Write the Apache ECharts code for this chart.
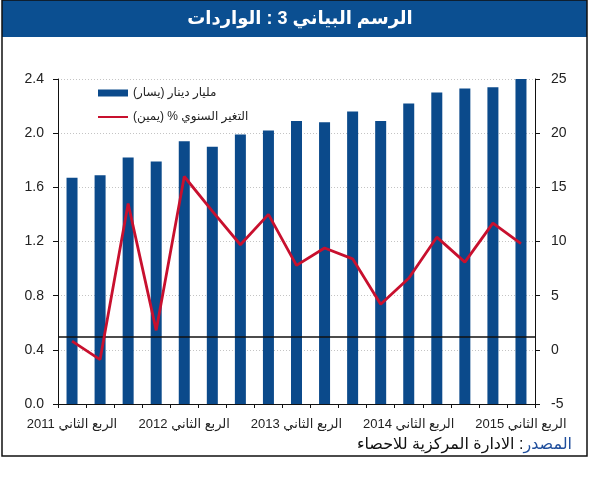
<!DOCTYPE html>
<html>
<head>
<meta charset="utf-8">
<script src="https://cdn.jsdelivr.net/npm/echarts@6/dist/echarts.min.js"></script>
<style>
  html, body { margin: 0; padding: 0; background: #fff; }
  #chart { width: 600px; height: 478px; }
</style>
</head>
<body>
<div id="chart" dir="rtl"></div>
<script>
const categories = [
  'الربع الثاني 2011', 'الربع الثالث 2011', 'الربع الرابع 2011',
  'الربع الأول 2012', 'الربع الثاني 2012', 'الربع الثالث 2012', 'الربع الرابع 2012',
  'الربع الأول 2013', 'الربع الثاني 2013', 'الربع الثالث 2013', 'الربع الرابع 2013',
  'الربع الأول 2014', 'الربع الثاني 2014', 'الربع الثالث 2014', 'الربع الرابع 2014',
  'الربع الأول 2015', 'الربع الثاني 2015'
]
// مليار دينار (يسار)
const imports = [1.67, 1.69, 1.82, 1.79, 1.94, 1.90, 1.99, 2.02, 2.09, 2.08, 2.16, 2.09, 2.22, 2.30, 2.33, 2.34, 2.40]
// التغير السنوي % (يمين)
const growth = [0.8, -0.9, 13.5, 1.8, 16.0, 12.8, 9.7, 12.5, 7.8, 9.4, 8.4, 4.2, 6.6, 10.4, 8.1, 11.7, 9.8]
const leftTicks = { min: 0, max: 2.4, interval: 0.4 }
const rightTicks = { min: -5, max: 25, interval: 5 }

const FONT = 'Arial, "Liberation Sans", "DejaVu Sans", sans-serif'
const BLUE = '#0b4a8b'
const RED = '#c8102e'

// keep numbers left-to-right inside the rtl page (so -5 stays -5)
const ltr = function (s) { return '\u202A' + s + '\u202C' }

const chart = echarts.init(document.getElementById('chart'), null, { renderer: 'canvas' })

const option = {
  animation: false,
  textStyle: { fontFamily: FONT },
  grid: { left: 58, right: 65, top: 79, bottom: 74 },
  legend: {
    orient: 'vertical',
    left: 97,
    top: 87,
    padding: 0,
    itemWidth: 30,
    itemHeight: 7,
    itemGap: 12,
    textStyle: { fontSize: 12, color: '#222', fontFamily: FONT },
    data: [
      { name: 'مليار دينار (يسار)', icon: 'rect' },
      { name: 'التغير السنوي % (يمين)', itemStyle: { opacity: 0, color: 'transparent', borderWidth: 0 } }
    ]
  },
  graphic: [
    {
      type: 'rect',
      shape: { x: 2, y: 0, width: 585, height: 456 },
      style: { fill: 'none', stroke: '#111', lineWidth: 1.5 },
      z: 100
    },
    {
      type: 'rect',
      shape: { x: 2, y: 0, width: 585, height: 37 },
      style: { fill: '#0b4f91' },
      z: 90
    },
    {
      type: 'text',
      x: 300,
      y: 19,
      style: {
        text: 'الرسم البياني 3 : الواردات',
        fill: '#fff',
        font: 'bold 18px ' + FONT,
        align: 'center',
        verticalAlign: 'middle'
      },
      z: 95
    },
    {
      type: 'text',
      x: 572,
      y: 445,
      style: {
        text: '{k|الادارة المركزية للاحصاء}{k| }{k|:}{s|المصدر}',
        align: 'right',
        verticalAlign: 'middle',
        rich: {
          k: { fontSize: 16, fill: '#111', fontFamily: FONT },
          s: { fontSize: 16, fill: '#1f4e9c', fontFamily: FONT }
        }
      },
      z: 95
    }
  ],
  xAxis: {
    type: 'category',
    data: categories,
    boundaryGap: true,
    axisLine: { lineStyle: { color: '#111', width: 1 } },
    axisTick: { show: true, interval: 0, length: 4, lineStyle: { color: '#111' } },
    axisLabel: {
      interval: 3,
      margin: 14,
      fontSize: 13,
      color: '#222',
      fontFamily: FONT
    },
    splitLine: { show: false }
  },
  yAxis: [
    {
      type: 'value',
      min: leftTicks.min,
      max: leftTicks.max,
      interval: leftTicks.interval,
      axisLine: { show: true, lineStyle: { color: '#111' } },
      axisTick: { show: true, length: 5, lineStyle: { color: '#111' } },
      axisLabel: {
        margin: 14,
        fontSize: 14,
        color: '#222',
        fontFamily: FONT,
        formatter: function (v) { return ltr(v.toFixed(1)) }
      },
      splitLine: { show: true, lineStyle: { color: '#c4c4c4', type: [1, 2], width: 1 } }
    },
    {
      type: 'value',
      min: rightTicks.min,
      max: rightTicks.max,
      interval: rightTicks.interval,
      axisLine: { show: true, lineStyle: { color: '#111' } },
      axisTick: { show: true, length: 5, lineStyle: { color: '#111' } },
      axisLabel: {
        margin: 16,
        fontSize: 14,
        color: '#222',
        fontFamily: FONT,
        formatter: function (v) { return ltr(String(v)) }
      },
      splitLine: { show: false }
    }
  ],
  series: [
    {
      name: 'مليار دينار (يسار)',
      type: 'bar',
      yAxisIndex: 0,
      data: imports,
      barWidth: 11,
      itemStyle: { color: BLUE },
      markLine: {
        silent: true,
        symbol: 'none',
        label: { show: false },
        lineStyle: { color: '#111', type: 'solid', width: 1.5 },
        data: [{ yAxis: 0.5 }]
      }
    },
    {
      name: 'التغير السنوي % (يمين)',
      type: 'line',
      yAxisIndex: 1,
      data: growth,
      symbol: 'none',
      z: 5,
      lineStyle: { color: RED, width: 2.8 },
      itemStyle: { color: RED }
    }
  ]
}

chart.setOption(option)
</script>
</body>
</html>
